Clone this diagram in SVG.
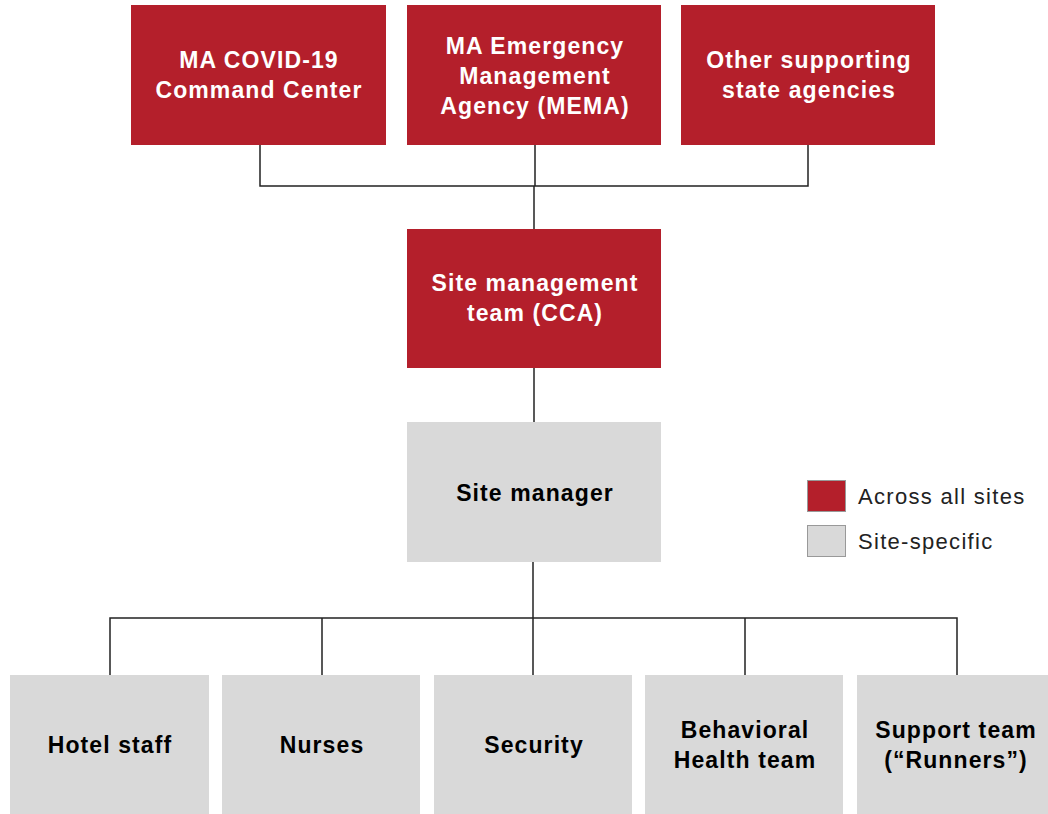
<svg xmlns="http://www.w3.org/2000/svg" width="1048" height="814" viewBox="0 0 1048 814">
<style>
.red{fill:#B41F2B}
.grey{fill:#D9D9D9}
.tw{font-family:"Liberation Sans",Arial,sans-serif;font-weight:bold;font-size:23px;letter-spacing:1.1px;fill:#FFFFFF;text-anchor:middle}
.tb{font-family:"Liberation Sans",Arial,sans-serif;font-weight:bold;font-size:23px;letter-spacing:1.1px;fill:#000000;text-anchor:middle}
.lg{font-family:"Liberation Sans",Arial,sans-serif;font-size:22px;letter-spacing:1.3px;fill:#222222}
.ln{fill:none;stroke:#222222;stroke-width:1.5}
</style>
<rect width="1048" height="814" fill="#FFFFFF"/>
<g id="connectors">
<path class="ln" d="M260,145 V186 H808 V145 M535,145 V186"/>
<path class="ln" d="M534,186 V229" stroke-width="2.5"/>
<path class="ln" d="M534,368 V422"/>
<path class="ln" d="M533,562 V618" stroke-width="2"/>
<path class="ln" d="M110,675 V618 H957 V675 M322,618 V675 M533,618 V675 M745,618 V675"/>
</g>
<g id="n1"><rect class="red" x="131" y="5" width="255" height="140"/><text class="tw" x="259" y="68">MA COVID-19</text><text class="tw" x="259" y="98">Command Center</text></g>
<g id="n2"><rect class="red" x="407" y="5" width="254" height="140"/><text class="tw" x="535" y="54">MA Emergency</text><text class="tw" x="535" y="84">Management</text><text class="tw" x="535" y="114">Agency (MEMA)</text></g>
<g id="n3"><rect class="red" x="681" y="5" width="254" height="140"/><text class="tw" x="809" y="68">Other supporting</text><text class="tw" x="809" y="98">state agencies</text></g>
<g id="n4"><rect class="red" x="407" y="229" width="254" height="139"/><text class="tw" x="535" y="291">Site management</text><text class="tw" x="535" y="321">team (CCA)</text></g>
<g id="n5"><rect class="grey" x="407" y="422" width="254" height="140"/><text class="tb" x="535" y="501">Site manager</text></g>
<g id="n6"><rect class="grey" x="10" y="675" width="199" height="139"/><text class="tb" x="110" y="753">Hotel staff</text></g>
<g id="n7"><rect class="grey" x="222" y="675" width="198" height="139"/><text class="tb" x="322" y="753">Nurses</text></g>
<g id="n8"><rect class="grey" x="434" y="675" width="198" height="139"/><text class="tb" x="534" y="753">Security</text></g>
<g id="n9"><rect class="grey" x="645" y="675" width="198" height="139"/><text class="tb" x="745" y="738">Behavioral</text><text class="tb" x="745" y="768">Health team</text></g>
<g id="n10"><rect class="grey" x="857" y="675" width="191" height="139"/><text class="tb" x="956" y="738">Support team</text><text class="tb" x="956" y="768">(“Runners”)</text></g>
<g id="legend">
<rect x="807.5" y="480.5" width="38" height="31" fill="#B41F2B" stroke="#999999" stroke-width="1"/>
<rect x="807.5" y="525.5" width="38" height="31" fill="#D9D9D9" stroke="#999999" stroke-width="1"/>
<text class="lg" x="858" y="504">Across all sites</text>
<text class="lg" x="858" y="549">Site-specific</text>
</g>
</svg>
